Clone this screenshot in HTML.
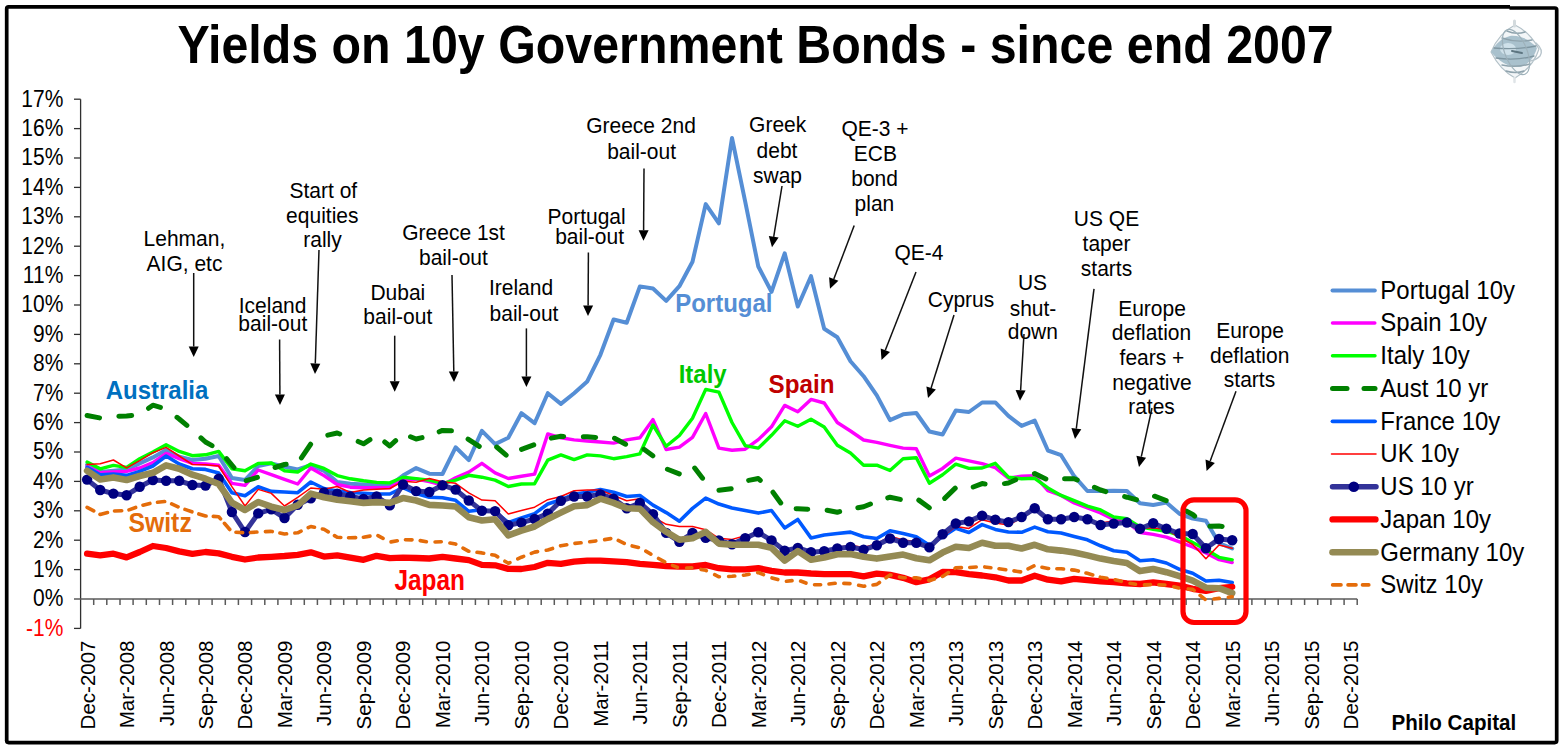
<!DOCTYPE html><html><head><meta charset="utf-8"><title>Yields on 10y Government Bonds - since end 2007</title>
<style>html,body{margin:0;padding:0;background:#fff;}svg{display:block;}</style></head><body>
<svg width="1564" height="749" viewBox="0 0 1564 749" font-family="'Liberation Sans', Arial, sans-serif">
<rect x="0" y="0" width="1564" height="749" fill="#fff"/>
<path d="M6.7,741 L6.7,8.8 Q6.7,6.9 8.6,6.9 L1510,6.9" fill="none" stroke="#000" stroke-width="3.7"/>
<path d="M1509.5,8 L1554.8,8 Q1556.7,8 1556.7,9.9 L1556.7,740.6 Q1556.7,742.6 1554.7,742.6 L8.6,742.6 Q6.7,742.6 6.7,740.6" fill="none" stroke="#000" stroke-width="3.7"/>
<text transform="translate(755.6,62.8) scale(1,1.096)" text-anchor="middle" font-size="48.35" font-weight="bold" fill="#000" >Yields on 10y Government Bonds - since end 2007</text>
<g stroke="#303030" stroke-width="1.3" fill="none">
<line x1="80.6" y1="99.2" x2="80.6" y2="628.4"/>
<line x1="74" y1="628.4" x2="80.6" y2="628.4"/>
<line x1="74" y1="569.6" x2="80.6" y2="569.6"/>
<line x1="74" y1="540.2" x2="80.6" y2="540.2"/>
<line x1="74" y1="510.8" x2="80.6" y2="510.8"/>
<line x1="74" y1="481.4" x2="80.6" y2="481.4"/>
<line x1="74" y1="452.0" x2="80.6" y2="452.0"/>
<line x1="74" y1="422.6" x2="80.6" y2="422.6"/>
<line x1="74" y1="393.2" x2="80.6" y2="393.2"/>
<line x1="74" y1="363.8" x2="80.6" y2="363.8"/>
<line x1="74" y1="334.4" x2="80.6" y2="334.4"/>
<line x1="74" y1="305.0" x2="80.6" y2="305.0"/>
<line x1="74" y1="275.6" x2="80.6" y2="275.6"/>
<line x1="74" y1="246.2" x2="80.6" y2="246.2"/>
<line x1="74" y1="216.8" x2="80.6" y2="216.8"/>
<line x1="74" y1="187.4" x2="80.6" y2="187.4"/>
<line x1="74" y1="158.0" x2="80.6" y2="158.0"/>
<line x1="74" y1="128.6" x2="80.6" y2="128.6"/>
<line x1="74" y1="99.2" x2="80.6" y2="99.2"/>
</g>
<text transform="translate(63.3,635.8) scale(1,1.12)" text-anchor="end" font-size="21" fill="#FF0000" >-1%</text>
<text transform="translate(63.3,606.4) scale(1,1.12)" text-anchor="end" font-size="21" fill="#000" >0%</text>
<text transform="translate(63.3,577.0) scale(1,1.12)" text-anchor="end" font-size="21" fill="#000" >1%</text>
<text transform="translate(63.3,547.6) scale(1,1.12)" text-anchor="end" font-size="21" fill="#000" >2%</text>
<text transform="translate(63.3,518.2) scale(1,1.12)" text-anchor="end" font-size="21" fill="#000" >3%</text>
<text transform="translate(63.3,488.8) scale(1,1.12)" text-anchor="end" font-size="21" fill="#000" >4%</text>
<text transform="translate(63.3,459.4) scale(1,1.12)" text-anchor="end" font-size="21" fill="#000" >5%</text>
<text transform="translate(63.3,430.0) scale(1,1.12)" text-anchor="end" font-size="21" fill="#000" >6%</text>
<text transform="translate(63.3,400.6) scale(1,1.12)" text-anchor="end" font-size="21" fill="#000" >7%</text>
<text transform="translate(63.3,371.2) scale(1,1.12)" text-anchor="end" font-size="21" fill="#000" >8%</text>
<text transform="translate(63.3,341.8) scale(1,1.12)" text-anchor="end" font-size="21" fill="#000" >9%</text>
<text transform="translate(63.3,312.4) scale(1,1.12)" text-anchor="end" font-size="21" fill="#000" >10%</text>
<text transform="translate(63.3,283.0) scale(1,1.12)" text-anchor="end" font-size="21" fill="#000" >11%</text>
<text transform="translate(63.3,253.6) scale(1,1.12)" text-anchor="end" font-size="21" fill="#000" >12%</text>
<text transform="translate(63.3,224.2) scale(1,1.12)" text-anchor="end" font-size="21" fill="#000" >13%</text>
<text transform="translate(63.3,194.8) scale(1,1.12)" text-anchor="end" font-size="21" fill="#000" >14%</text>
<text transform="translate(63.3,165.4) scale(1,1.12)" text-anchor="end" font-size="21" fill="#000" >15%</text>
<text transform="translate(63.3,136.0) scale(1,1.12)" text-anchor="end" font-size="21" fill="#000" >16%</text>
<text transform="translate(63.3,106.6) scale(1,1.12)" text-anchor="end" font-size="21" fill="#000" >17%</text>
<g stroke="#5a5a5a" stroke-width="1.5" fill="none">
<line x1="74" y1="599" x2="1357.2" y2="599" stroke-width="1.7"/>
<line x1="93.7" y1="599" x2="93.7" y2="605"/>
<line x1="106.8" y1="599" x2="106.8" y2="605"/>
<line x1="120.0" y1="599" x2="120.0" y2="605"/>
<line x1="133.1" y1="599" x2="133.1" y2="605"/>
<line x1="146.3" y1="599" x2="146.3" y2="605"/>
<line x1="159.5" y1="599" x2="159.5" y2="605"/>
<line x1="172.6" y1="599" x2="172.6" y2="605"/>
<line x1="185.8" y1="599" x2="185.8" y2="605"/>
<line x1="199.0" y1="599" x2="199.0" y2="605"/>
<line x1="212.1" y1="599" x2="212.1" y2="605"/>
<line x1="225.3" y1="599" x2="225.3" y2="605"/>
<line x1="238.4" y1="599" x2="238.4" y2="605"/>
<line x1="251.6" y1="599" x2="251.6" y2="605"/>
<line x1="264.8" y1="599" x2="264.8" y2="605"/>
<line x1="277.9" y1="599" x2="277.9" y2="605"/>
<line x1="291.1" y1="599" x2="291.1" y2="605"/>
<line x1="304.3" y1="599" x2="304.3" y2="605"/>
<line x1="317.4" y1="599" x2="317.4" y2="605"/>
<line x1="330.6" y1="599" x2="330.6" y2="605"/>
<line x1="343.7" y1="599" x2="343.7" y2="605"/>
<line x1="356.9" y1="599" x2="356.9" y2="605"/>
<line x1="370.1" y1="599" x2="370.1" y2="605"/>
<line x1="383.2" y1="599" x2="383.2" y2="605"/>
<line x1="396.4" y1="599" x2="396.4" y2="605"/>
<line x1="409.6" y1="599" x2="409.6" y2="605"/>
<line x1="422.7" y1="599" x2="422.7" y2="605"/>
<line x1="435.9" y1="599" x2="435.9" y2="605"/>
<line x1="449.0" y1="599" x2="449.0" y2="605"/>
<line x1="462.2" y1="599" x2="462.2" y2="605"/>
<line x1="475.4" y1="599" x2="475.4" y2="605"/>
<line x1="488.5" y1="599" x2="488.5" y2="605"/>
<line x1="501.7" y1="599" x2="501.7" y2="605"/>
<line x1="514.8" y1="599" x2="514.8" y2="605"/>
<line x1="528.0" y1="599" x2="528.0" y2="605"/>
<line x1="541.2" y1="599" x2="541.2" y2="605"/>
<line x1="554.3" y1="599" x2="554.3" y2="605"/>
<line x1="567.5" y1="599" x2="567.5" y2="605"/>
<line x1="580.7" y1="599" x2="580.7" y2="605"/>
<line x1="593.8" y1="599" x2="593.8" y2="605"/>
<line x1="607.0" y1="599" x2="607.0" y2="605"/>
<line x1="620.1" y1="599" x2="620.1" y2="605"/>
<line x1="633.3" y1="599" x2="633.3" y2="605"/>
<line x1="646.5" y1="599" x2="646.5" y2="605"/>
<line x1="659.6" y1="599" x2="659.6" y2="605"/>
<line x1="672.8" y1="599" x2="672.8" y2="605"/>
<line x1="686.0" y1="599" x2="686.0" y2="605"/>
<line x1="699.1" y1="599" x2="699.1" y2="605"/>
<line x1="712.3" y1="599" x2="712.3" y2="605"/>
<line x1="725.4" y1="599" x2="725.4" y2="605"/>
<line x1="738.6" y1="599" x2="738.6" y2="605"/>
<line x1="751.8" y1="599" x2="751.8" y2="605"/>
<line x1="764.9" y1="599" x2="764.9" y2="605"/>
<line x1="778.1" y1="599" x2="778.1" y2="605"/>
<line x1="791.2" y1="599" x2="791.2" y2="605"/>
<line x1="804.4" y1="599" x2="804.4" y2="605"/>
<line x1="817.6" y1="599" x2="817.6" y2="605"/>
<line x1="830.7" y1="599" x2="830.7" y2="605"/>
<line x1="843.9" y1="599" x2="843.9" y2="605"/>
<line x1="857.1" y1="599" x2="857.1" y2="605"/>
<line x1="870.2" y1="599" x2="870.2" y2="605"/>
<line x1="883.4" y1="599" x2="883.4" y2="605"/>
<line x1="896.5" y1="599" x2="896.5" y2="605"/>
<line x1="909.7" y1="599" x2="909.7" y2="605"/>
<line x1="922.9" y1="599" x2="922.9" y2="605"/>
<line x1="936.0" y1="599" x2="936.0" y2="605"/>
<line x1="949.2" y1="599" x2="949.2" y2="605"/>
<line x1="962.4" y1="599" x2="962.4" y2="605"/>
<line x1="975.5" y1="599" x2="975.5" y2="605"/>
<line x1="988.7" y1="599" x2="988.7" y2="605"/>
<line x1="1001.8" y1="599" x2="1001.8" y2="605"/>
<line x1="1015.0" y1="599" x2="1015.0" y2="605"/>
<line x1="1028.2" y1="599" x2="1028.2" y2="605"/>
<line x1="1041.3" y1="599" x2="1041.3" y2="605"/>
<line x1="1054.5" y1="599" x2="1054.5" y2="605"/>
<line x1="1067.7" y1="599" x2="1067.7" y2="605"/>
<line x1="1080.8" y1="599" x2="1080.8" y2="605"/>
<line x1="1094.0" y1="599" x2="1094.0" y2="605"/>
<line x1="1107.1" y1="599" x2="1107.1" y2="605"/>
<line x1="1120.3" y1="599" x2="1120.3" y2="605"/>
<line x1="1133.5" y1="599" x2="1133.5" y2="605"/>
<line x1="1146.6" y1="599" x2="1146.6" y2="605"/>
<line x1="1159.8" y1="599" x2="1159.8" y2="605"/>
<line x1="1172.9" y1="599" x2="1172.9" y2="605"/>
<line x1="1186.1" y1="599" x2="1186.1" y2="605"/>
<line x1="1199.3" y1="599" x2="1199.3" y2="605"/>
<line x1="1212.4" y1="599" x2="1212.4" y2="605"/>
<line x1="1225.6" y1="599" x2="1225.6" y2="605"/>
<line x1="1238.8" y1="599" x2="1238.8" y2="605"/>
<line x1="1251.9" y1="599" x2="1251.9" y2="605"/>
<line x1="1265.1" y1="599" x2="1265.1" y2="605"/>
<line x1="1278.2" y1="599" x2="1278.2" y2="605"/>
<line x1="1291.4" y1="599" x2="1291.4" y2="605"/>
<line x1="1304.6" y1="599" x2="1304.6" y2="605"/>
<line x1="1317.7" y1="599" x2="1317.7" y2="605"/>
<line x1="1330.9" y1="599" x2="1330.9" y2="605"/>
<line x1="1344.1" y1="599" x2="1344.1" y2="605"/>
<line x1="1357.2" y1="599" x2="1357.2" y2="605"/>
</g>
<text transform="translate(94.5,640.5) rotate(-90)" text-anchor="end" font-size="20.5">Dec-2007</text>
<text transform="translate(134.0,640.5) rotate(-90)" text-anchor="end" font-size="20.5">Mar-2008</text>
<text transform="translate(173.5,640.5) rotate(-90)" text-anchor="end" font-size="20.5">Jun-2008</text>
<text transform="translate(212.9,640.5) rotate(-90)" text-anchor="end" font-size="20.5">Sep-2008</text>
<text transform="translate(252.4,640.5) rotate(-90)" text-anchor="end" font-size="20.5">Dec-2008</text>
<text transform="translate(291.9,640.5) rotate(-90)" text-anchor="end" font-size="20.5">Mar-2009</text>
<text transform="translate(331.4,640.5) rotate(-90)" text-anchor="end" font-size="20.5">Jun-2009</text>
<text transform="translate(370.9,640.5) rotate(-90)" text-anchor="end" font-size="20.5">Sep-2009</text>
<text transform="translate(410.4,640.5) rotate(-90)" text-anchor="end" font-size="20.5">Dec-2009</text>
<text transform="translate(449.9,640.5) rotate(-90)" text-anchor="end" font-size="20.5">Mar-2010</text>
<text transform="translate(489.3,640.5) rotate(-90)" text-anchor="end" font-size="20.5">Jun-2010</text>
<text transform="translate(528.8,640.5) rotate(-90)" text-anchor="end" font-size="20.5">Sep-2010</text>
<text transform="translate(568.3,640.5) rotate(-90)" text-anchor="end" font-size="20.5">Dec-2010</text>
<text transform="translate(607.8,640.5) rotate(-90)" text-anchor="end" font-size="20.5">Mar-2011</text>
<text transform="translate(647.3,640.5) rotate(-90)" text-anchor="end" font-size="20.5">Jun-2011</text>
<text transform="translate(686.8,640.5) rotate(-90)" text-anchor="end" font-size="20.5">Sep-2011</text>
<text transform="translate(726.3,640.5) rotate(-90)" text-anchor="end" font-size="20.5">Dec-2011</text>
<text transform="translate(765.7,640.5) rotate(-90)" text-anchor="end" font-size="20.5">Mar-2012</text>
<text transform="translate(805.2,640.5) rotate(-90)" text-anchor="end" font-size="20.5">Jun-2012</text>
<text transform="translate(844.7,640.5) rotate(-90)" text-anchor="end" font-size="20.5">Sep-2012</text>
<text transform="translate(884.2,640.5) rotate(-90)" text-anchor="end" font-size="20.5">Dec-2012</text>
<text transform="translate(923.7,640.5) rotate(-90)" text-anchor="end" font-size="20.5">Mar-2013</text>
<text transform="translate(963.2,640.5) rotate(-90)" text-anchor="end" font-size="20.5">Jun-2013</text>
<text transform="translate(1002.7,640.5) rotate(-90)" text-anchor="end" font-size="20.5">Sep-2013</text>
<text transform="translate(1042.1,640.5) rotate(-90)" text-anchor="end" font-size="20.5">Dec-2013</text>
<text transform="translate(1081.6,640.5) rotate(-90)" text-anchor="end" font-size="20.5">Mar-2014</text>
<text transform="translate(1121.1,640.5) rotate(-90)" text-anchor="end" font-size="20.5">Jun-2014</text>
<text transform="translate(1160.6,640.5) rotate(-90)" text-anchor="end" font-size="20.5">Sep-2014</text>
<text transform="translate(1200.1,640.5) rotate(-90)" text-anchor="end" font-size="20.5">Dec-2014</text>
<text transform="translate(1239.6,640.5) rotate(-90)" text-anchor="end" font-size="20.5">Mar-2015</text>
<text transform="translate(1279.1,640.5) rotate(-90)" text-anchor="end" font-size="20.5">Jun-2015</text>
<text transform="translate(1318.5,640.5) rotate(-90)" text-anchor="end" font-size="20.5">Sep-2015</text>
<text transform="translate(1358.0,640.5) rotate(-90)" text-anchor="end" font-size="20.5">Dec-2015</text>
<g fill="none" stroke-linejoin="round" stroke-linecap="round">
<polyline points="87.1,464.8 100.2,472.0 113.4,470.8 126.6,469.4 139.7,463.4 152.9,457.4 166.1,450.0 179.2,456.7 192.4,460.0 205.5,458.8 218.7,456.0 231.9,478.0 245.0,480.0 258.2,466.0 271.3,463.4 284.5,466.8 297.7,469.4 310.8,465.2 324.0,470.8 337.2,482.0 350.3,483.7 363.5,484.5 376.6,485.3 389.8,485.6 403.0,475.6 416.1,468.1 429.3,473.7 442.5,474.0 455.6,447.3 468.8,460.1 481.9,430.8 495.1,444.1 508.3,437.7 521.4,413.2 534.6,423.2 547.8,393.2 560.9,403.9 574.1,393.2 587.2,381.5 600.4,354.8 613.6,319.5 626.7,322.7 639.9,286.4 653.0,288.5 666.2,300.9 679.4,286.2 692.5,261.7 705.7,204.1 718.9,223.3 732.0,138.0 745.2,201.7 758.3,266.5 771.5,291.8 784.7,253.3 797.8,306.5 811.0,276.2 824.2,328.8 837.3,337.3 850.5,361.2 863.6,376.2 876.8,395.4 890.0,420.1 903.1,414.3 916.3,413.0 929.4,431.5 942.6,434.5 955.8,410.5 968.9,412.0 982.1,402.5 995.3,402.4 1008.4,415.9 1021.6,425.9 1034.7,420.6 1047.9,450.5 1061.1,455.2 1074.2,476.2 1087.4,491.0 1100.6,491.0 1113.7,490.7 1126.9,491.0 1140.0,503.2 1153.2,505.0 1166.4,502.6 1179.5,513.8 1192.7,518.5 1205.9,520.7 1219.0,543.0 1232.2,548.5" stroke="#558ED5" stroke-width="4"/>
<polyline points="87.1,466.8 100.2,472.8 113.4,472.0 126.6,471.4 139.7,468.0 152.9,462.7 166.1,453.4 179.2,458.7 192.4,463.4 205.5,464.0 218.7,465.3 231.9,483.4 245.0,485.4 258.2,470.0 271.3,474.7 284.5,479.4 297.7,484.0 310.8,468.0 324.0,475.6 337.2,484.5 350.3,487.2 363.5,487.7 376.6,487.7 389.8,487.7 403.0,479.6 416.1,479.0 429.3,481.7 442.5,485.0 455.6,477.7 468.8,472.1 481.9,463.3 495.1,472.9 508.3,478.5 521.4,476.3 534.6,474.1 547.8,433.9 560.9,437.8 574.1,439.9 587.2,441.0 600.4,442.0 613.6,443.1 626.7,439.9 639.9,437.8 653.0,419.6 666.2,449.5 679.4,447.2 692.5,437.4 705.7,413.5 718.9,448.1 732.0,450.3 745.2,449.2 758.3,439.6 771.5,426.8 784.7,405.4 797.8,411.8 811.0,399.4 824.2,403.0 837.3,422.5 850.5,431.0 863.6,440.0 876.8,442.3 890.0,445.3 903.1,448.1 916.3,448.7 929.4,475.9 942.6,468.4 955.8,458.1 968.9,460.9 982.1,463.7 995.3,467.6 1008.4,478.3 1021.6,476.2 1034.7,475.7 1047.9,490.7 1061.1,495.4 1074.2,502.9 1087.4,507.8 1100.6,512.9 1113.7,519.5 1126.9,522.0 1140.0,532.5 1153.2,534.4 1166.4,537.2 1179.5,541.9 1192.7,547.0 1205.9,553.0 1219.0,559.7 1232.2,562.5" stroke="#FF00FF" stroke-width="3.4"/>
<polyline points="87.1,462.0 100.2,468.8 113.4,465.4 126.6,467.4 139.7,458.7 152.9,452.0 166.1,444.7 179.2,451.4 192.4,455.7 205.5,454.8 218.7,451.4 231.9,468.8 245.0,470.8 258.2,463.4 271.3,463.0 284.5,470.8 297.7,472.0 310.8,464.0 324.0,468.4 337.2,475.6 350.3,478.8 363.5,480.8 376.6,482.4 389.8,482.9 403.0,477.2 416.1,478.6 429.3,480.1 442.5,483.3 455.6,480.1 468.8,475.3 481.9,477.2 495.1,480.1 508.3,486.5 521.4,484.0 534.6,483.7 547.8,460.2 560.9,454.9 574.1,459.6 587.2,454.9 600.4,455.9 613.6,458.7 626.7,456.6 639.9,453.8 653.0,425.0 666.2,446.3 679.4,435.5 692.5,418.2 705.7,389.4 718.9,392.1 732.0,422.5 745.2,445.6 758.3,448.1 771.5,435.3 784.7,420.8 797.8,426.3 811.0,419.3 824.2,427.0 837.3,445.3 850.5,453.0 863.6,465.2 876.8,465.2 890.0,470.5 903.1,458.8 916.3,457.7 929.4,483.3 942.6,474.8 955.8,464.1 968.9,468.4 982.1,468.0 995.3,463.3 1008.4,477.2 1021.6,478.7 1034.7,478.3 1047.9,487.9 1061.1,495.4 1074.2,500.7 1087.4,506.1 1100.6,509.9 1113.7,517.0 1126.9,518.7 1140.0,526.9 1153.2,529.3 1166.4,531.2 1179.5,535.3 1192.7,542.5 1205.9,549.5 1219.0,557.3 1232.2,559.8" stroke="#00FF00" stroke-width="3.4"/>
<polyline points="87.1,415.5 100.2,418.0 113.4,416.4 126.6,416.1 139.7,414.7 152.9,405.2 166.1,409.0 179.2,419.0 192.4,430.0 205.5,442.0 218.7,449.4 231.9,465.0 245.0,481.0 258.2,477.2 271.3,468.7 284.5,464.5 297.7,463.4 310.8,444.0 324.0,436.0 337.2,433.0 350.3,438.0 363.5,443.8 376.6,435.5 389.8,446.0 403.0,433.8 416.1,439.0 429.3,436.0 442.5,430.4 455.6,431.0 468.8,439.6 481.9,448.0 495.1,445.7 508.3,456.9 521.4,449.4 534.6,444.6 547.8,438.8 560.9,436.3 574.1,436.7 587.2,436.7 600.4,437.8 613.6,437.8 626.7,444.8 639.9,446.3 653.0,455.9 666.2,468.8 679.4,474.0 692.5,465.2 705.7,482.3 718.9,490.2 732.0,488.7 745.2,481.0 758.3,478.5 771.5,490.2 784.7,508.4 797.8,508.8 811.0,509.4 824.2,509.7 837.3,512.2 850.5,509.0 863.6,506.8 876.8,501.5 890.0,497.2 903.1,500.0 916.3,498.3 929.4,507.9 942.6,500.4 955.8,487.6 968.9,488.7 982.1,483.6 995.3,485.0 1008.4,483.0 1021.6,477.2 1034.7,473.6 1047.9,480.0 1061.1,478.7 1074.2,478.7 1087.4,484.3 1100.6,490.0 1113.7,494.0 1126.9,497.2 1140.0,500.7 1153.2,495.7 1166.4,500.7 1179.5,507.7 1192.7,514.4 1205.9,526.4 1219.0,526.0 1232.2,527.9" stroke="#008000" stroke-width="5" stroke-dasharray="12.67 19.38 12.85 19.01 13.20 19.62 12.79 18.76 13.65 19.78 11.52 18.69 11.68 20.40 11.60 18.15 16.48 19.66 12.35 19.89 13.47 18.25 14.45 18.08 12.11 18.18 12.59 19.02 13.29 18.59 12.47 18.03 12.99 18.80 12.62 19.70 12.34 19.01 12.55 19.58 10.99 19.98 12.73 19.49 12.87 20.57 12.36 19.57 12.52 17.44 13.26 18.15 11.71 19.41 12.76 18.61 13.23 18.36 12.92 19.24 13.02 18.19 14.69 18.58 12.54 19.52 11.96 19.72 12.68 19.06 12.86 18.71 12.20 19.50 12.25 19.19 12.46 22.51 10.02 19.10 12.36 60.15"/>
<polyline points="87.1,467.4 100.2,474.8 113.4,474.0 126.6,475.4 139.7,471.4 152.9,466.0 166.1,456.0 179.2,464.0 192.4,468.7 205.5,469.4 218.7,473.0 231.9,492.7 245.0,495.8 258.2,486.7 271.3,491.4 284.5,492.0 297.7,492.7 310.8,482.0 324.0,488.5 337.2,490.9 350.3,492.5 363.5,493.3 376.6,494.0 389.8,494.0 403.0,487.7 416.1,493.5 429.3,497.3 442.5,497.7 455.6,500.3 468.8,511.3 481.9,509.7 495.1,512.0 508.3,522.5 521.4,518.0 534.6,513.6 547.8,504.0 560.9,499.7 574.1,494.4 587.2,492.3 600.4,489.5 613.6,492.3 626.7,496.5 639.9,495.5 653.0,505.1 666.2,512.6 679.4,521.2 692.5,508.4 705.7,498.1 718.9,504.1 732.0,508.0 745.2,510.5 758.3,513.1 771.5,510.5 784.7,528.0 797.8,519.5 811.0,537.9 824.2,535.0 837.3,533.5 850.5,532.1 863.6,536.8 876.8,538.5 890.0,530.8 903.1,533.5 916.3,536.8 929.4,545.3 942.6,536.8 955.8,528.2 968.9,532.5 982.1,524.6 995.3,529.4 1008.4,532.0 1021.6,532.3 1034.7,527.1 1047.9,531.8 1061.1,533.0 1074.2,536.4 1087.4,539.8 1100.6,545.8 1113.7,550.8 1126.9,552.3 1140.0,560.8 1153.2,559.8 1166.4,563.0 1179.5,569.3 1192.7,573.2 1205.9,581.0 1219.0,580.2 1232.2,582.6" stroke="#0059FF" stroke-width="3.6"/>
<polyline points="87.1,464.4 100.2,463.8 113.4,460.0 126.6,467.8 139.7,460.7 152.9,452.7 166.1,447.4 179.2,456.0 192.4,464.5 205.5,464.8 218.7,466.0 231.9,486.7 245.0,506.0 258.2,489.4 271.3,493.4 284.5,506.0 297.7,497.4 310.8,488.0 324.0,489.3 337.2,486.5 350.3,492.5 363.5,490.0 376.6,489.3 389.8,488.5 403.0,481.2 416.1,482.3 429.3,478.5 442.5,481.7 455.6,483.3 468.8,492.9 481.9,500.1 495.1,500.7 508.3,514.0 521.4,510.5 534.6,507.2 547.8,499.7 560.9,496.5 574.1,490.8 587.2,490.1 600.4,490.1 613.6,495.5 626.7,500.8 639.9,498.7 653.0,516.8 666.2,524.3 679.4,526.5 692.5,526.5 705.7,529.7 718.9,538.3 732.0,539.4 745.2,535.7 758.3,533.0 771.5,540.4 784.7,551.1 797.8,550.0 811.0,554.3 824.2,551.5 837.3,547.4 850.5,545.3 863.6,547.4 876.8,543.6 890.0,536.3 903.1,540.0 916.3,541.5 929.4,547.4 942.6,536.8 955.8,526.5 968.9,528.4 982.1,519.7 995.3,523.0 1008.4,525.0 1021.6,518.0 1034.7,510.0 1047.9,520.0 1061.1,520.0 1074.2,518.0 1087.4,520.0 1100.6,523.0 1113.7,521.0 1126.9,522.2 1140.0,527.9 1153.2,527.9 1166.4,529.3 1179.5,537.5 1192.7,544.5 1205.9,558.7 1219.0,545.0 1232.2,548.2" stroke="#FF0000" stroke-width="1.5"/>
<polyline points="87.1,479.6 100.2,490.0 113.4,493.6 126.6,495.2 139.7,486.8 152.9,480.0 166.1,480.8 179.2,480.8 192.4,485.0 205.5,485.6 218.7,478.7 231.9,512.0 245.0,532.0 258.2,513.4 271.3,509.4 284.5,518.0 297.7,504.7 310.8,498.3 324.0,492.5 337.2,493.6 350.3,496.5 363.5,498.9 376.6,496.5 389.8,505.3 403.0,484.5 416.1,491.1 429.3,492.0 442.5,485.2 455.6,489.6 468.8,500.5 481.9,510.7 495.1,511.1 508.3,525.2 521.4,522.6 534.6,519.0 547.8,513.6 560.9,500.8 574.1,496.5 587.2,496.5 600.4,494.4 613.6,498.7 626.7,508.3 639.9,503.0 653.0,514.3 666.2,532.9 679.4,541.8 692.5,533.0 705.7,537.9 718.9,540.4 732.0,544.3 745.2,538.3 758.3,532.3 771.5,540.4 784.7,550.7 797.8,547.9 811.0,552.2 824.2,551.3 837.3,548.5 850.5,547.0 863.6,549.6 876.8,545.3 890.0,538.5 903.1,542.7 916.3,542.7 929.4,547.4 942.6,534.2 955.8,523.5 968.9,521.4 982.1,515.6 995.3,519.8 1008.4,522.1 1021.6,517.0 1034.7,508.3 1047.9,519.2 1061.1,519.2 1074.2,517.0 1087.4,519.2 1100.6,525.0 1113.7,523.6 1126.9,522.5 1140.0,528.8 1153.2,523.2 1166.4,528.8 1179.5,533.5 1192.7,534.0 1205.9,548.3 1219.0,539.0 1232.2,540.2" stroke="#333399" stroke-width="5"/>
</g><g fill="#000080">
<circle cx="87.1" cy="479.6" r="5.2"/>
<circle cx="100.2" cy="490.0" r="5.2"/>
<circle cx="113.4" cy="493.6" r="5.2"/>
<circle cx="126.6" cy="495.2" r="5.2"/>
<circle cx="139.7" cy="486.8" r="5.2"/>
<circle cx="152.9" cy="480.0" r="5.2"/>
<circle cx="166.1" cy="480.8" r="5.2"/>
<circle cx="179.2" cy="480.8" r="5.2"/>
<circle cx="192.4" cy="485.0" r="5.2"/>
<circle cx="205.5" cy="485.6" r="5.2"/>
<circle cx="218.7" cy="478.7" r="5.2"/>
<circle cx="231.9" cy="512.0" r="5.2"/>
<circle cx="245.0" cy="532.0" r="5.2"/>
<circle cx="258.2" cy="513.4" r="5.2"/>
<circle cx="271.3" cy="509.4" r="5.2"/>
<circle cx="284.5" cy="518.0" r="5.2"/>
<circle cx="297.7" cy="504.7" r="5.2"/>
<circle cx="310.8" cy="498.3" r="5.2"/>
<circle cx="324.0" cy="492.5" r="5.2"/>
<circle cx="337.2" cy="493.6" r="5.2"/>
<circle cx="350.3" cy="496.5" r="5.2"/>
<circle cx="363.5" cy="498.9" r="5.2"/>
<circle cx="376.6" cy="496.5" r="5.2"/>
<circle cx="389.8" cy="505.3" r="5.2"/>
<circle cx="403.0" cy="484.5" r="5.2"/>
<circle cx="416.1" cy="491.1" r="5.2"/>
<circle cx="429.3" cy="492.0" r="5.2"/>
<circle cx="442.5" cy="485.2" r="5.2"/>
<circle cx="455.6" cy="489.6" r="5.2"/>
<circle cx="468.8" cy="500.5" r="5.2"/>
<circle cx="481.9" cy="510.7" r="5.2"/>
<circle cx="495.1" cy="511.1" r="5.2"/>
<circle cx="508.3" cy="525.2" r="5.2"/>
<circle cx="521.4" cy="522.6" r="5.2"/>
<circle cx="534.6" cy="519.0" r="5.2"/>
<circle cx="547.8" cy="513.6" r="5.2"/>
<circle cx="560.9" cy="500.8" r="5.2"/>
<circle cx="574.1" cy="496.5" r="5.2"/>
<circle cx="587.2" cy="496.5" r="5.2"/>
<circle cx="600.4" cy="494.4" r="5.2"/>
<circle cx="613.6" cy="498.7" r="5.2"/>
<circle cx="626.7" cy="508.3" r="5.2"/>
<circle cx="639.9" cy="503.0" r="5.2"/>
<circle cx="653.0" cy="514.3" r="5.2"/>
<circle cx="666.2" cy="532.9" r="5.2"/>
<circle cx="679.4" cy="541.8" r="5.2"/>
<circle cx="692.5" cy="533.0" r="5.2"/>
<circle cx="705.7" cy="537.9" r="5.2"/>
<circle cx="718.9" cy="540.4" r="5.2"/>
<circle cx="732.0" cy="544.3" r="5.2"/>
<circle cx="745.2" cy="538.3" r="5.2"/>
<circle cx="758.3" cy="532.3" r="5.2"/>
<circle cx="771.5" cy="540.4" r="5.2"/>
<circle cx="784.7" cy="550.7" r="5.2"/>
<circle cx="797.8" cy="547.9" r="5.2"/>
<circle cx="811.0" cy="552.2" r="5.2"/>
<circle cx="824.2" cy="551.3" r="5.2"/>
<circle cx="837.3" cy="548.5" r="5.2"/>
<circle cx="850.5" cy="547.0" r="5.2"/>
<circle cx="863.6" cy="549.6" r="5.2"/>
<circle cx="876.8" cy="545.3" r="5.2"/>
<circle cx="890.0" cy="538.5" r="5.2"/>
<circle cx="903.1" cy="542.7" r="5.2"/>
<circle cx="916.3" cy="542.7" r="5.2"/>
<circle cx="929.4" cy="547.4" r="5.2"/>
<circle cx="942.6" cy="534.2" r="5.2"/>
<circle cx="955.8" cy="523.5" r="5.2"/>
<circle cx="968.9" cy="521.4" r="5.2"/>
<circle cx="982.1" cy="515.6" r="5.2"/>
<circle cx="995.3" cy="519.8" r="5.2"/>
<circle cx="1008.4" cy="522.1" r="5.2"/>
<circle cx="1021.6" cy="517.0" r="5.2"/>
<circle cx="1034.7" cy="508.3" r="5.2"/>
<circle cx="1047.9" cy="519.2" r="5.2"/>
<circle cx="1061.1" cy="519.2" r="5.2"/>
<circle cx="1074.2" cy="517.0" r="5.2"/>
<circle cx="1087.4" cy="519.2" r="5.2"/>
<circle cx="1100.6" cy="525.0" r="5.2"/>
<circle cx="1113.7" cy="523.6" r="5.2"/>
<circle cx="1126.9" cy="522.5" r="5.2"/>
<circle cx="1140.0" cy="528.8" r="5.2"/>
<circle cx="1153.2" cy="523.2" r="5.2"/>
<circle cx="1166.4" cy="528.8" r="5.2"/>
<circle cx="1179.5" cy="533.5" r="5.2"/>
<circle cx="1192.7" cy="534.0" r="5.2"/>
<circle cx="1205.9" cy="548.3" r="5.2"/>
<circle cx="1219.0" cy="539.0" r="5.2"/>
<circle cx="1232.2" cy="540.2" r="5.2"/>
</g><g fill="none" stroke-linejoin="round" stroke-linecap="round">
<polyline points="87.1,553.7 100.2,555.4 113.4,553.7 126.6,557.4 139.7,552.0 152.9,546.0 166.1,548.0 179.2,551.4 192.4,553.8 205.5,552.0 218.7,553.4 231.9,556.8 245.0,559.5 258.2,557.5 271.3,556.8 284.5,556.0 297.7,554.8 310.8,552.3 324.0,556.6 337.2,555.4 350.3,557.7 363.5,559.8 376.6,555.8 389.8,558.2 403.0,557.7 416.1,558.0 429.3,558.5 442.5,556.9 455.6,558.5 468.8,560.1 481.9,564.9 495.1,565.3 508.3,568.9 521.4,569.0 534.6,567.0 547.8,562.8 560.9,563.8 574.1,561.7 587.2,560.6 600.4,560.6 613.6,561.3 626.7,562.1 639.9,563.8 653.0,564.9 666.2,566.0 679.4,566.5 692.5,566.5 705.7,565.0 718.9,568.2 732.0,569.3 745.2,569.3 758.3,568.2 771.5,570.8 784.7,572.5 797.8,572.5 811.0,573.5 824.2,574.2 837.3,574.2 850.5,574.2 863.6,576.4 876.8,573.7 890.0,574.9 903.1,577.8 916.3,582.2 929.4,579.3 942.6,572.0 955.8,572.2 968.9,574.2 982.1,575.5 995.3,577.3 1008.4,580.5 1021.6,580.5 1034.7,575.7 1047.9,579.7 1061.1,581.3 1074.2,578.9 1087.4,580.1 1100.6,581.3 1113.7,582.0 1126.9,583.3 1140.0,584.0 1153.2,582.4 1166.4,584.0 1179.5,585.6 1192.7,588.8 1205.9,590.9 1219.0,588.2 1232.2,586.8" stroke="#FF0000" stroke-width="6.3"/>
<polyline points="87.1,470.8 100.2,479.4 113.4,477.4 126.6,480.0 139.7,476.0 152.9,472.8 166.1,465.4 179.2,468.8 192.4,474.7 205.5,478.7 218.7,484.0 231.9,502.7 245.0,510.0 258.2,502.0 271.3,506.7 284.5,510.0 297.7,505.4 310.8,493.6 324.0,497.3 337.2,499.7 350.3,501.3 363.5,502.9 376.6,502.1 389.8,502.9 403.0,498.1 416.1,500.5 429.3,504.9 442.5,505.5 455.6,506.5 468.8,517.3 481.9,520.5 495.1,519.3 508.3,535.3 521.4,530.7 534.6,526.5 547.8,519.0 560.9,512.6 574.1,506.2 587.2,505.1 600.4,498.7 613.6,502.9 626.7,508.3 639.9,508.7 653.0,522.2 666.2,531.8 679.4,539.8 692.5,538.3 705.7,531.9 718.9,543.6 732.0,544.7 745.2,544.7 758.3,544.7 771.5,547.9 784.7,560.7 797.8,551.1 811.0,559.7 824.2,557.5 837.3,554.2 850.5,554.0 863.6,556.8 876.8,558.6 890.0,556.4 903.1,554.6 916.3,558.2 929.4,560.3 942.6,552.6 955.8,546.7 968.9,548.0 982.1,542.7 995.3,545.8 1008.4,545.8 1021.6,548.5 1034.7,544.8 1047.9,549.3 1061.1,550.6 1074.2,552.5 1087.4,555.4 1100.6,558.6 1113.7,561.0 1126.9,563.0 1140.0,571.1 1153.2,569.0 1166.4,572.2 1179.5,576.2 1192.7,580.7 1205.9,587.7 1219.0,588.2 1232.2,593.2" stroke="#948A54" stroke-width="6.6"/>
<polyline points="87.1,507.4 100.2,514.4 113.4,511.0 126.6,510.7 139.7,506.0 152.9,502.7 166.1,501.4 179.2,507.4 192.4,512.0 205.5,516.0 218.7,516.7 231.9,532.0 245.0,532.8 258.2,532.0 271.3,531.4 284.5,534.0 297.7,532.8 310.8,526.5 324.0,529.3 337.2,537.3 350.3,537.8 363.5,537.3 376.6,534.9 389.8,542.1 403.0,539.7 416.1,539.9 429.3,542.2 442.5,541.7 455.6,544.1 468.8,551.3 481.9,552.9 495.1,555.3 508.3,563.3 521.4,557.2 534.6,552.1 547.8,550.0 560.9,545.7 574.1,543.5 587.2,542.1 600.4,540.3 613.6,538.2 626.7,544.6 639.9,547.8 653.0,555.3 666.2,562.8 679.4,568.2 692.5,567.8 705.7,570.3 718.9,576.8 732.0,576.3 745.2,575.0 758.3,572.5 771.5,577.8 784.7,581.5 797.8,580.0 811.0,584.9 824.2,584.6 837.3,583.0 850.5,583.7 863.6,586.3 876.8,584.4 890.0,574.9 903.1,577.8 916.3,577.8 929.4,580.5 942.6,576.4 955.8,567.8 968.9,567.5 982.1,566.6 995.3,568.2 1008.4,570.1 1021.6,572.0 1034.7,565.6 1047.9,568.5 1061.1,568.8 1074.2,570.1 1087.4,573.3 1100.6,577.3 1113.7,579.4 1126.9,582.7 1140.0,585.0 1153.2,584.5 1166.4,585.0 1179.5,588.2 1192.7,589.3 1205.9,600.0 1219.0,598.4 1232.2,596.8" stroke="#E46C0A" stroke-width="3.6" stroke-dasharray="7.51 7.11 7.74 7.21 7.23 7.45 7.02 7.70 7.12 7.75 7.18 7.56 7.04 7.41 7.29 7.26 7.58 7.21 8.21 5.90 8.21 7.32 6.72 7.71 6.62 8.51 6.86 7.78 6.84 8.22 6.67 7.92 6.58 8.10 6.66 7.23 6.83 7.70 7.11 7.70 6.74 8.28 5.82 8.96 6.32 8.27 6.60 8.23 6.25 8.72 6.22 8.78 5.96 8.27 6.65 8.23 6.71 8.28 6.38 8.40 5.78 8.67 6.42 8.21 6.52 8.76 6.58 8.44 6.32 8.26 6.16 8.73 6.19 8.86 6.22 8.05 6.63 8.41 6.41 8.32 5.84 8.89 6.99 8.57 5.26 9.43 5.12 9.40 5.47 9.29 5.28 9.20 6.13 8.72 5.72 8.79 6.17 9.21 6.00 8.90 5.66 8.80 5.68 8.93 6.10 8.42 6.17 8.71 6.14 8.80 6.26 8.35 7.11 8.04 5.84 8.82 5.83 8.70 6.21 8.81 5.97 8.42 7.11 7.90 6.54 8.30 6.52 8.52 6.17 8.24 6.81 8.25 6.78 8.16 6.55 8.31 6.79 8.20 6.72 8.22 6.79 7.82 7.01 7.89 6.80 8.46 6.19 8.94 5.54 9.04 6.01 8.40 6.01 9.16 5.12 9.52 6.33 7.72 6.47 8.94 5.57 9.04 3.92 50.00"/>
</g>
<text transform="translate(157.0,398.8) scale(1,1.096)" text-anchor="middle" font-size="24" font-weight="bold" fill="#0070C0" >Australia</text>
<text transform="translate(160.1,532.1) scale(1,1.1)" text-anchor="middle" font-size="24.8" font-weight="bold" fill="#E46C0A" >Switz</text>
<text transform="translate(429.7,589.7) scale(1,1.22)" text-anchor="middle" font-size="24.4" font-weight="bold" fill="#FF0000" >Japan</text>
<text transform="translate(723.8,311.7) scale(1,1.096)" text-anchor="middle" font-size="24" font-weight="bold" fill="#558ED5" >Portugal</text>
<text transform="translate(702.7,382.8) scale(1,1.096)" text-anchor="middle" font-size="24" font-weight="bold" fill="#00C800" >Italy</text>
<text transform="translate(801.5,392.9) scale(1,1.096)" text-anchor="middle" font-size="24.2" font-weight="bold" fill="#C00000" >Spain</text>
<text transform="translate(184.4,245.8) scale(1,1.065)" text-anchor="middle" font-size="21" fill="#000" >Lehman,</text>
<text transform="translate(184.5,270.5) scale(1,1.065)" text-anchor="middle" font-size="21" fill="#000" >AIG, etc</text>
<line x1="193.7" y1="273.0" x2="193.7" y2="346.5" stroke="#111" stroke-width="1.5"/>
<polygon points="193.7,357.0 188.7,346.5 198.7,346.5" fill="#000"/>
<text transform="translate(272.6,312.6) scale(1,1.065)" text-anchor="middle" font-size="21" fill="#000" >Iceland</text>
<text transform="translate(272.8,331.4) scale(1,1.065)" text-anchor="middle" font-size="21" fill="#000" >bail-out</text>
<line x1="279.6" y1="339.4" x2="279.9" y2="394.5" stroke="#111" stroke-width="1.5"/>
<polygon points="280.0,405.0 274.9,394.5 284.9,394.5" fill="#000"/>
<text transform="translate(323.3,197.7) scale(1,1.065)" text-anchor="middle" font-size="21" fill="#000" >Start of</text>
<text transform="translate(322.3,222.7) scale(1,1.065)" text-anchor="middle" font-size="21" fill="#000" >equities</text>
<text transform="translate(322.5,247.2) scale(1,1.065)" text-anchor="middle" font-size="21" fill="#000" >rally</text>
<line x1="319.0" y1="250.0" x2="315.3" y2="363.5" stroke="#111" stroke-width="1.5"/>
<polygon points="315.0,374.0 310.3,363.3 320.3,363.7" fill="#000"/>
<text transform="translate(397.8,300.0) scale(1,1.065)" text-anchor="middle" font-size="21" fill="#000" >Dubai</text>
<text transform="translate(397.8,324.0) scale(1,1.065)" text-anchor="middle" font-size="21" fill="#000" >bail-out</text>
<line x1="394.7" y1="335.7" x2="394.7" y2="381.2" stroke="#111" stroke-width="1.5"/>
<polygon points="394.7,391.7 389.7,381.2 399.7,381.2" fill="#000"/>
<text transform="translate(453.6,240.4) scale(1,1.065)" text-anchor="middle" font-size="21" fill="#000" >Greece 1st</text>
<text transform="translate(453.4,264.8) scale(1,1.065)" text-anchor="middle" font-size="21" fill="#000" >bail-out</text>
<line x1="452.0" y1="275.0" x2="453.8" y2="371.5" stroke="#111" stroke-width="1.5"/>
<polygon points="454.0,382.0 448.8,371.6 458.8,371.4" fill="#000"/>
<text transform="translate(521.0,295.4) scale(1,1.065)" text-anchor="middle" font-size="21" fill="#000" >Ireland</text>
<text transform="translate(524.0,320.9) scale(1,1.065)" text-anchor="middle" font-size="21" fill="#000" >bail-out</text>
<line x1="526.4" y1="328.4" x2="526.4" y2="376.5" stroke="#111" stroke-width="1.5"/>
<polygon points="526.4,387.0 521.4,376.5 531.4,376.5" fill="#000"/>
<text transform="translate(586.6,224.0) scale(1,1.065)" text-anchor="middle" font-size="21" fill="#000" >Portugal</text>
<text transform="translate(589.6,243.6) scale(1,1.065)" text-anchor="middle" font-size="21" fill="#000" >bail-out</text>
<line x1="588.4" y1="252.4" x2="588.1" y2="305.5" stroke="#111" stroke-width="1.5"/>
<polygon points="588.0,316.0 583.1,305.5 593.1,305.5" fill="#000"/>
<text transform="translate(641.0,132.9) scale(1,1.065)" text-anchor="middle" font-size="21" fill="#000" >Greece 2nd</text>
<text transform="translate(641.6,159.1) scale(1,1.065)" text-anchor="middle" font-size="21" fill="#000" >bail-out</text>
<line x1="644.0" y1="168.4" x2="643.6" y2="230.3" stroke="#111" stroke-width="1.5"/>
<polygon points="643.5,240.8 638.6,230.3 648.6,230.3" fill="#000"/>
<text transform="translate(777.7,132.3) scale(1,1.065)" text-anchor="middle" font-size="21" fill="#000" >Greek</text>
<text transform="translate(777.0,158.0) scale(1,1.065)" text-anchor="middle" font-size="21" fill="#000" >debt</text>
<text transform="translate(777.5,183.2) scale(1,1.065)" text-anchor="middle" font-size="21" fill="#000" >swap</text>
<line x1="782.0" y1="186.0" x2="773.7" y2="236.8" stroke="#111" stroke-width="1.5"/>
<polygon points="772.0,247.2 768.8,236.0 778.6,237.6" fill="#000"/>
<text transform="translate(875.0,135.8) scale(1,1.065)" text-anchor="middle" font-size="21" fill="#000" >QE-3 +</text>
<text transform="translate(875.4,160.7) scale(1,1.065)" text-anchor="middle" font-size="21" fill="#000" >ECB</text>
<text transform="translate(874.6,185.5) scale(1,1.065)" text-anchor="middle" font-size="21" fill="#000" >bond</text>
<text transform="translate(874.4,210.8) scale(1,1.065)" text-anchor="middle" font-size="21" fill="#000" >plan</text>
<line x1="854.2" y1="225.6" x2="833.8" y2="279.0" stroke="#111" stroke-width="1.5"/>
<polygon points="830.0,288.8 829.1,277.2 838.4,280.8" fill="#000"/>
<text transform="translate(919.0,260.0) scale(1,1.065)" text-anchor="middle" font-size="21" fill="#000" >QE-4</text>
<line x1="916.0" y1="272.0" x2="885.3" y2="350.2" stroke="#111" stroke-width="1.5"/>
<polygon points="881.5,360.0 880.7,348.4 890.0,352.0" fill="#000"/>
<text transform="translate(961.0,307.2) scale(1,1.065)" text-anchor="middle" font-size="21" fill="#000" >Cyprus</text>
<line x1="954.0" y1="315.0" x2="931.1" y2="388.0" stroke="#111" stroke-width="1.5"/>
<polygon points="928.0,398.0 926.4,386.5 935.9,389.5" fill="#000"/>
<text transform="translate(1032.5,290.0) scale(1,1.065)" text-anchor="middle" font-size="21" fill="#000" >US</text>
<text transform="translate(1033.0,316.0) scale(1,1.065)" text-anchor="middle" font-size="21" fill="#000" >shut-</text>
<text transform="translate(1032.8,339.2) scale(1,1.065)" text-anchor="middle" font-size="21" fill="#000" >down</text>
<line x1="1024.0" y1="334.0" x2="1020.6" y2="390.3" stroke="#111" stroke-width="1.5"/>
<polygon points="1020.0,400.8 1015.6,390.0 1025.6,390.6" fill="#000"/>
<text transform="translate(1106.5,226.0) scale(1,1.065)" text-anchor="middle" font-size="21" fill="#000" >US QE</text>
<text transform="translate(1106.5,251.2) scale(1,1.065)" text-anchor="middle" font-size="21" fill="#000" >taper</text>
<text transform="translate(1106.5,276.0) scale(1,1.065)" text-anchor="middle" font-size="21" fill="#000" >starts</text>
<line x1="1094.0" y1="288.8" x2="1076.3" y2="428.6" stroke="#111" stroke-width="1.5"/>
<polygon points="1075.0,439.0 1071.4,428.0 1081.3,429.2" fill="#000"/>
<text transform="translate(1152.0,316.0) scale(1,1.065)" text-anchor="middle" font-size="21" fill="#000" >Europe</text>
<text transform="translate(1151.5,340.0) scale(1,1.065)" text-anchor="middle" font-size="21" fill="#000" >deflation</text>
<text transform="translate(1152.0,364.8) scale(1,1.065)" text-anchor="middle" font-size="21" fill="#000" >fears +</text>
<text transform="translate(1152.0,390.0) scale(1,1.065)" text-anchor="middle" font-size="21" fill="#000" >negative</text>
<text transform="translate(1151.5,414.0) scale(1,1.065)" text-anchor="middle" font-size="21" fill="#000" >rates</text>
<line x1="1152.0" y1="408.0" x2="1141.3" y2="456.7" stroke="#111" stroke-width="1.5"/>
<polygon points="1139.0,467.0 1136.4,455.7 1146.1,457.8" fill="#000"/>
<text transform="translate(1250.0,338.0) scale(1,1.065)" text-anchor="middle" font-size="21" fill="#000" >Europe</text>
<text transform="translate(1249.7,362.7) scale(1,1.065)" text-anchor="middle" font-size="21" fill="#000" >deflation</text>
<text transform="translate(1249.5,387.3) scale(1,1.065)" text-anchor="middle" font-size="21" fill="#000" >starts</text>
<line x1="1236.0" y1="391.3" x2="1210.2" y2="461.1" stroke="#111" stroke-width="1.5"/>
<polygon points="1206.6,471.0 1205.5,459.4 1214.9,462.9" fill="#000"/>
<rect x="1183" y="499.8" width="63" height="122.7" rx="11" fill="none" stroke="#FF0000" stroke-width="5.2"/>
<g fill="none" stroke-linecap="round">
<line x1="1332.5" y1="290.4" x2="1374.8" y2="290.4" stroke="#558ED5" stroke-width="4"/>
<line x1="1332.5" y1="323.1" x2="1374.8" y2="323.1" stroke="#FF00FF" stroke-width="3.5"/>
<line x1="1332.5" y1="355.8" x2="1375" y2="355.8" stroke="#00FF00" stroke-width="3.4"/>
<line x1="1332.5" y1="388.6" x2="1347" y2="388.6" stroke="#008000" stroke-width="5"/>
<line x1="1364" y1="388.6" x2="1375" y2="388.6" stroke="#008000" stroke-width="5"/>
<line x1="1332.5" y1="421.3" x2="1375" y2="421.3" stroke="#0059FF" stroke-width="3.8"/>
<line x1="1331.5" y1="454.0" x2="1376" y2="454.0" stroke="#FF0000" stroke-width="1.5"/>
<line x1="1332.5" y1="486.7" x2="1376" y2="486.7" stroke="#333399" stroke-width="5.5"/>
<line x1="1332.5" y1="519.4" x2="1375.5" y2="519.4" stroke="#FF0000" stroke-width="6.3"/>
<line x1="1332.5" y1="552.2" x2="1375.5" y2="552.2" stroke="#948A54" stroke-width="6.6"/>
<line x1="1332.6" y1="584.9" x2="1341" y2="584.9" stroke="#E46C0A" stroke-width="3.6"/>
<line x1="1348" y1="584.9" x2="1356" y2="584.9" stroke="#E46C0A" stroke-width="3.6"/>
<line x1="1362.5" y1="584.9" x2="1368.8" y2="584.9" stroke="#E46C0A" stroke-width="3.6"/>
</g>
<circle cx="1353.8" cy="486.7" r="5.3" fill="#000080"/>
<text transform="translate(1380.3,298.7) scale(1,1.1)" text-anchor="start" font-size="24" fill="#000" >Portugal 10y</text>
<text transform="translate(1380.3,331.4) scale(1,1.1)" text-anchor="start" font-size="24" fill="#000" >Spain 10y</text>
<text transform="translate(1380.3,364.1) scale(1,1.1)" text-anchor="start" font-size="24" fill="#000" >Italy 10y</text>
<text transform="translate(1380.3,396.9) scale(1,1.1)" text-anchor="start" font-size="24" fill="#000" >Aust 10 yr</text>
<text transform="translate(1380.3,429.6) scale(1,1.1)" text-anchor="start" font-size="24" fill="#000" >France 10y</text>
<text transform="translate(1380.3,462.3) scale(1,1.1)" text-anchor="start" font-size="24" fill="#000" >UK 10y</text>
<text transform="translate(1380.3,495.0) scale(1,1.1)" text-anchor="start" font-size="24" fill="#000" >US 10 yr</text>
<text transform="translate(1380.3,527.7) scale(1,1.1)" text-anchor="start" font-size="24" fill="#000" >Japan 10y</text>
<text transform="translate(1380.3,560.5) scale(1,1.1)" text-anchor="start" font-size="24" fill="#000" >Germany 10y</text>
<text transform="translate(1380.3,593.2) scale(1,1.1)" text-anchor="start" font-size="24" fill="#000" >Switz 10y</text>
<defs><filter id="soft" x="-20%" y="-20%" width="140%" height="140%"><feGaussianBlur stdDeviation="0.6"/></filter></defs>
<g transform="translate(1516,52)" fill="none" stroke-linecap="round" filter="url(#soft)">
<path d="M-1,-27 C10,-22 18,-12 23,-3 C19,10 9,20 -1,26 C-12,20 -20,10 -25,0 C-20,-12 -11,-22 -1,-27 Z" fill="#f3f6f8" stroke="#b3c1c8" stroke-width="1.1"/>
<path d="M-25,0 C-20,-9 -14,-14 -6,-16 C4,-17 14,-12 21,-4 C18,6 12,13 4,15 C-6,16 -17,10 -25,0 Z" fill="#a9c1cd"/>
<ellipse cx="-8" cy="-3" rx="8" ry="6" fill="#cfe1ea"/>
<path d="M-9,-21 Q0,-17 9,-20 M-14,-14 Q0,-9 16,-12 M-14,13 Q0,16 14,12 M-10,19 Q0,22 8,19" stroke="#8fa3ad" stroke-width="1.4"/>
<path d="M-22,-4 Q0,-2 20,-6 M-20,6 Q0,9 18,4" stroke="#7f96a1" stroke-width="1.3"/>
<path d="M20,-9 Q28,-2 24,4 Q20,8 14,9" stroke="#b8c5cc" stroke-width="1.4"/>
<ellipse cx="0" cy="0" rx="11" ry="24" transform="rotate(-22)" stroke="#9eb1ba" stroke-width="1.2"/>
<path d="M-4,-1 L6,1" stroke="#5d7480" stroke-width="2"/>
<line x1="-1.5" y1="-31" x2="-1.5" y2="-26" stroke="#d3dadd" stroke-width="3"/>
<line x1="-1.5" y1="26" x2="-1.5" y2="30" stroke="#dfe4e7" stroke-width="2.5"/>
</g>
<text transform="translate(1453.9,729.7) scale(1,1.09)" text-anchor="middle" font-size="20.6" font-weight="bold" fill="#000" >Philo Capital</text>
</svg></body></html>
